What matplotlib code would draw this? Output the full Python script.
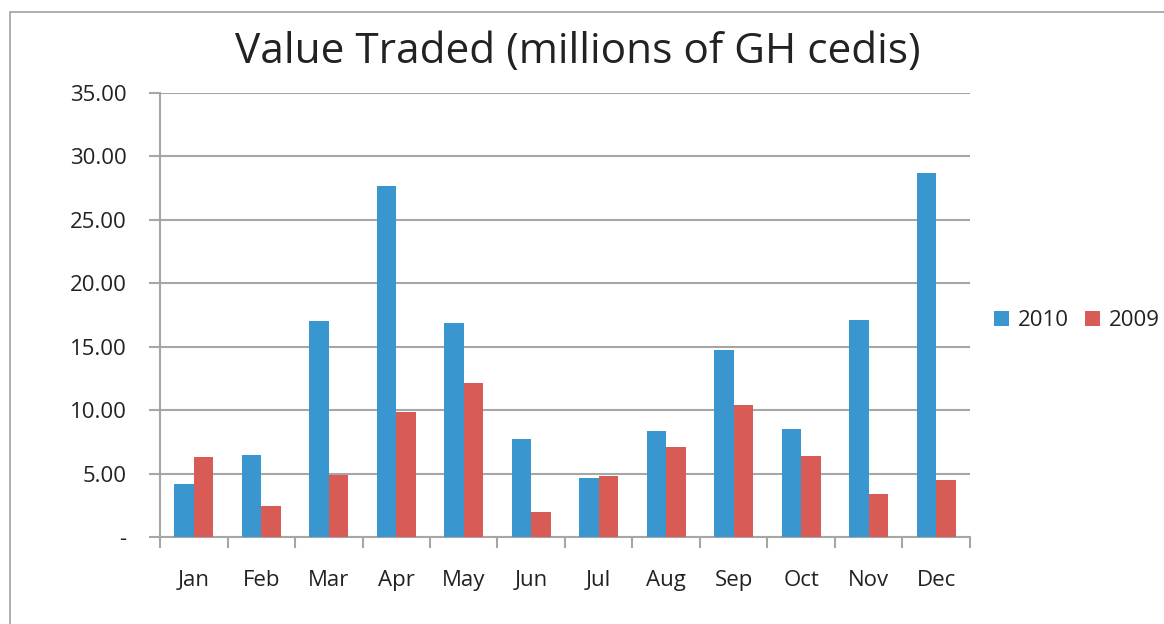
import numpy as np
import matplotlib.pyplot as plt
from matplotlib.ticker import FuncFormatter
from matplotlib.patches import Rectangle

months = ["Jan", "Feb", "Mar", "Apr", "May", "Jun",
          "Jul", "Aug", "Sep", "Oct", "Nov", "Dec"]
v2010 = [4.18, 6.46, 17.03, 27.67, 16.87, 7.72, 4.65, 8.36, 14.74, 8.51, 17.10, 28.69]
v2009 = [6.30, 2.44, 4.89, 9.85, 12.14, 1.97, 4.81, 7.09, 10.40, 6.39, 3.39, 4.49]

blue = "#3A96CF"
red = "#D95B55"
grid_c = "#A6A6A6"

plt.rcParams['font.family'] = ['Open Sans', 'DejaVu Sans']

fig = plt.figure(figsize=(11.64, 6.24), dpi=100)
# outer chart frame (only left and top edges visible in the crop)
fig.patches.append(Rectangle((10/1164, -0.1), 1.2, 1 - 12/624 + 0.1,
                             transform=fig.transFigure, fill=False,
                             edgecolor="#A0A0A0", linewidth=1.2))

ax = fig.add_axes([160/1164, 1 - 537/624, 810/1164, 444/624])

x = np.arange(len(months))
w = 0.29
ax.bar(x - w/2, v2010, w, color=blue, label="2010", zorder=3)
ax.bar(x + w/2, v2009, w, color=red, label="2009", zorder=3)

ax.set_xlim(-0.5, len(months) - 0.5)
ax.set_ylim(0, 35)
ax.set_yticks(np.arange(0, 36, 5))
ax.yaxis.set_major_formatter(FuncFormatter(lambda v, p: "-" if v == 0 else f"{v:.2f}"))
ax.yaxis.grid(True, color=grid_c, linewidth=1.5, zorder=0)

ax.set_xticks(np.arange(-0.5, len(months), 1))
ax.set_xticklabels([])
ax.set_xticks(x, minor=True)
ax.set_xticklabels(months, minor=True)
ax.tick_params(axis="x", which="major", length=8, width=1.5, color=grid_c, direction="out")
ax.tick_params(axis="x", which="minor", length=0, pad=24, labelsize=16, labelcolor="#222222")
ax.tick_params(axis="y", length=8, width=1.5, color=grid_c, pad=16, labelsize=16, labelcolor="#222222")

for s in ["top", "right"]:
    ax.spines[s].set_visible(False)
for s in ["left", "bottom"]:
    ax.spines[s].set_color(grid_c)
    ax.spines[s].set_linewidth(1.5)

fig.text(578/1164, 1 - 52/624, "Value Traded (millions of GH cedis)",
         ha="center", va="center", fontsize=30.5, color="#222222")

fig.legend(loc="center right", bbox_to_anchor=(1160/1164, 1 - 321/624), ncol=2,
           frameon=False, fontsize=16, handlelength=0.7, handleheight=0.7,
           handletextpad=0.4, columnspacing=0.7, borderaxespad=0, borderpad=0,
           labelcolor="#222222")

fig.savefig("out.png", dpi=100)
